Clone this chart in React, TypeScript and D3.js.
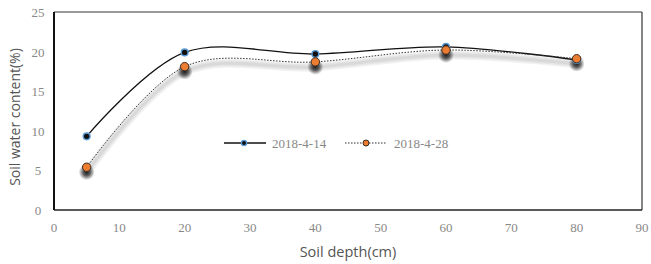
import { useRef, useEffect } from "react";
import * as d3 from "d3";

const depths = [5, 20, 40, 60, 80];
const seriesA = [9.3, 19.9, 19.7, 20.6, 18.95];
const seriesB = [5.4, 18.1, 18.7, 20.2, 19.1];
const seriesNames = ["2018-4-14", "2018-4-28"];
const xTicks = [0, 10, 20, 30, 40, 50, 60, 70, 80, 90];
const yTicks = [0, 5, 10, 15, 20, 25];

export default function App() {
  const svgRef = useRef<SVGSVGElement | null>(null);

  useEffect(() => {
    const width = 651;
    const height = 264;
    const margin = { top: 12, right: 9, bottom: 54, left: 54 };
    const innerW = width - margin.left - margin.right;
    const innerH = height - margin.top - margin.bottom;

    const svg = d3.select(svgRef.current);
    svg.selectAll("*").remove();

    // soft dark blob used as the marker shadow
    const defs = svg.append("defs");
    const rg = defs.append("radialGradient").attr("id", "blob");
    rg.append("stop").attr("offset", "0%").attr("stop-color", "#000").attr("stop-opacity", 0.85);
    rg.append("stop").attr("offset", "45%").attr("stop-color", "#000").attr("stop-opacity", 0.6);
    rg.append("stop").attr("offset", "100%").attr("stop-color", "#000").attr("stop-opacity", 0);

    const x = d3.scaleLinear().domain([0, 90]).range([0, innerW]);
    const y = d3.scaleLinear().domain([0, 25]).range([innerH, 0]);

    const g = svg.append("g").attr("transform", `translate(${margin.left},${margin.top})`);

    // frame
    g.append("line").attr("x1", 0).attr("x2", innerW).attr("y1", 0).attr("y2", 0)
      .attr("stroke", "#777").attr("stroke-width", 1.5);
    g.append("line").attr("x1", innerW).attr("x2", innerW).attr("y1", 0).attr("y2", innerH)
      .attr("stroke", "#333").attr("stroke-width", 1.2);
    g.append("line").attr("x1", 0).attr("x2", innerW).attr("y1", innerH).attr("y2", innerH)
      .attr("stroke", "#222").attr("stroke-width", 1.5);
    g.append("line").attr("x1", 0).attr("x2", 0).attr("y1", 0).attr("y2", innerH)
      .attr("stroke", "#111").attr("stroke-width", 2);

    // tick labels
    g.selectAll(".xt")
      .data(xTicks)
      .enter()
      .append("text")
      .attr("x", (d) => x(d))
      .attr("y", innerH + 22)
      .attr("text-anchor", "middle")
      .attr("fill", "#888")
      .attr("font-size", "13px")
      .attr("font-family", "'Liberation Serif', serif")
      .text((d) => d);

    g.selectAll(".yt")
      .data(yTicks)
      .enter()
      .append("text")
      .attr("x", -16)
      .attr("y", (d) => y(d) + 5)
      .attr("text-anchor", "middle")
      .attr("fill", "#888")
      .attr("font-size", "13px")
      .attr("font-family", "'Liberation Serif', serif")
      .text((d) => d);

    // axis titles
    svg.append("text")
      .attr("x", 348)
      .attr("y", 257)
      .attr("text-anchor", "middle")
      .attr("fill", "#555")
      .attr("font-size", "14.5px")
      .attr("font-family", "'Open Sans', sans-serif")
      .text("Soil depth(cm)");

    svg.append("text")
      .attr("transform", "translate(20,117) rotate(-90)")
      .attr("text-anchor", "middle")
      .attr("fill", "#555")
      .attr("font-size", "14px")
      .attr("font-family", "'Open Sans', sans-serif")
      .text("Soil water content(%)");

    const line = d3
      .line<number>()
      .x((_, i) => x(depths[i]))
      .y((d) => y(d))
      .curve(d3.curveCardinal.tension(0));

    // shadow of series B: offset, soft gray strokes + dark blobs under markers
    const sh = g.append("g").attr("transform", "translate(0,5)");
    [9, 6, 3].forEach((w) => {
      sh.append("path")
        .datum(seriesB)
        .attr("d", line)
        .attr("fill", "none")
        .attr("stroke", "#000")
        .attr("stroke-opacity", 0.05)
        .attr("stroke-width", w)
        .attr("stroke-linecap", "round");
    });
    sh.selectAll("circle")
      .data(seriesB)
      .enter()
      .append("circle")
      .attr("cx", (_, i) => x(depths[i]))
      .attr("cy", (d) => y(d))
      .attr("r", 8)
      .attr("fill", "url(#blob)");

    // series A
    g.append("path")
      .datum(seriesA)
      .attr("d", line)
      .attr("fill", "none")
      .attr("stroke", "#111")
      .attr("stroke-width", 1.3);
    g.selectAll(".ma")
      .data(seriesA)
      .enter()
      .append("circle")
      .attr("cx", (_, i) => x(depths[i]))
      .attr("cy", (d) => y(d))
      .attr("r", 3.4)
      .attr("fill", "#111")
      .attr("stroke", "#5b9bd5")
      .attr("stroke-width", 1.4);

    // series B (dotted)
    const gb = g.append("g");
    gb.append("path")
      .datum(seriesB)
      .attr("d", line)
      .attr("fill", "none")
      .attr("stroke", "#333")
      .attr("stroke-width", 1)
      .attr("stroke-dasharray", "1.5,1.5");
    gb.selectAll("circle")
      .data(seriesB)
      .enter()
      .append("circle")
      .attr("cx", (_, i) => x(depths[i]))
      .attr("cy", (d) => y(d))
      .attr("r", 4.2)
      .attr("fill", "#ed7d31")
      .attr("stroke", "#3a2a20")
      .attr("stroke-width", 1);

    // legend
    const lg = svg.append("g");
    lg.append("line").attr("x1", 224).attr("x2", 266).attr("y1", 143).attr("y2", 143)
      .attr("stroke", "#111").attr("stroke-width", 1.3);
    lg.append("circle").attr("cx", 244).attr("cy", 143).attr("r", 2.6)
      .attr("fill", "#111").attr("stroke", "#5b9bd5").attr("stroke-width", 1.2);
    lg.append("text").attr("x", 272).attr("y", 147.5)
      .attr("fill", "#888").attr("font-size", "13px")
      .attr("font-family", "'Liberation Serif', serif").text(seriesNames[0]);
    lg.append("line").attr("x1", 345).attr("x2", 386).attr("y1", 143).attr("y2", 143)
      .attr("stroke", "#333").attr("stroke-width", 1).attr("stroke-dasharray", "1.5,1.5");
    lg.append("circle").attr("cx", 366).attr("cy", 143).attr("r", 3)
      .attr("fill", "#ed7d31").attr("stroke", "#3a2a20").attr("stroke-width", 1);
    lg.append("text").attr("x", 394).attr("y", 147.5)
      .attr("fill", "#888").attr("font-size", "13px")
      .attr("font-family", "'Liberation Serif', serif").text(seriesNames[1]);
  }, []);

  return (
    <div style={{ position: "absolute", left: 0, top: 0 }}>
      <svg ref={svgRef} width={651} height={264} style={{ display: "block", background: "#fff" }} />
    </div>
  );
}
